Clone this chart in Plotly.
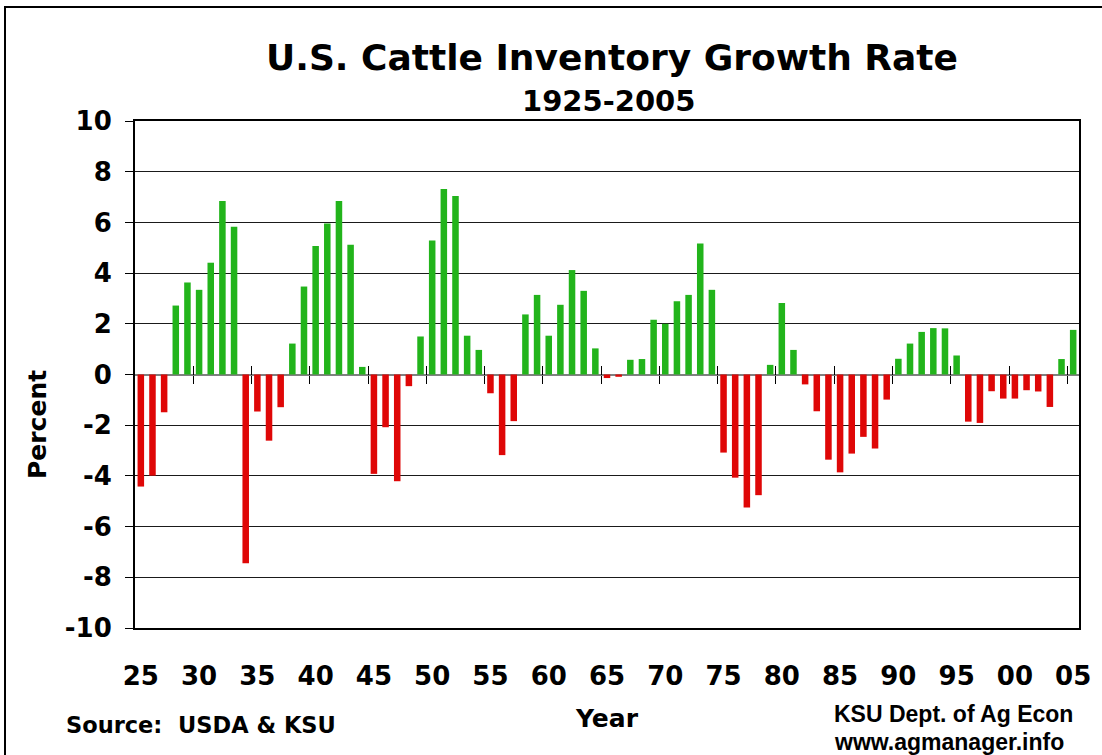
import plotly.graph_objects as go

years = list(range(1925, 2006))
growth = [
    -4.42, -3.99, -1.49, 2.72, 3.63, 3.34, 4.41, 6.84, 5.83, -7.45,
    -1.46, -2.61, -1.29, 1.22, 3.47, 5.07, 5.96, 6.84, 5.12, 0.30,
    -3.92, -2.08, -4.21, -0.46, 1.50, 5.29, 7.32, 7.04, 1.53, 0.97,
    -0.74, -3.18, -1.84, 2.37, 3.14, 1.53, 2.75, 4.12, 3.30, 1.03,
    -0.14, -0.09, 0.58, 0.61, 2.16, 2.00, 2.89, 3.14, 5.17, 3.34,
    -3.08, -4.07, -5.25, -4.76, 0.38, 2.82, 0.97, -0.39, -1.45, -3.36,
    -3.86, -3.12, -2.46, -2.92, -0.99, 0.62, 1.22, 1.68, 1.83, 1.82,
    0.75, -1.86, -1.91, -0.66, -0.95, -0.95, -0.62, -0.67, -1.28, 0.61,
    1.76,
]
label_years = list(range(1925, 2006, 5))
x_tick_labels = ["25", "30", "35", "40", "45", "50", "55", "60", "65",
                 "70", "75", "80", "85", "90", "95", "00", "05"]
y_ticks = [-10, -8, -6, -4, -2, 0, 2, 4, 6, 8, 10]
y_tick_labels = ["-10", "-8", "-6", "-4", "-2", "0", "2", "4", "6", "8", "10"]
sep_ticks = [y - 0.5 for y in range(1930, 2006, 5)]

GREEN = "#22B41B"
RED = "#DF0707"
colors = [GREEN if v >= 0 else RED for v in growth]

W, H = 1102, 755
L, R, T, B = 135, 1079, 121, 628
pw, ph = R - L, B - T


def px(x):
    return (x - L) / pw


def py(y):
    return (B - y) / ph


VERD = "DejaVu Sans, Verdana, sans-serif"
ARIAL = "Liberation Sans, Arial, sans-serif"

fig = go.Figure()
fig.add_trace(go.Bar(
    x=years, y=growth, marker=dict(color=colors, line=dict(width=0)),
    width=0.56, showlegend=False, hoverinfo="x+y",
))
# invisible traces to host the separator-tick axes
fig.add_trace(go.Scatter(x=years, y=growth, xaxis="x2", mode="none",
                         hoverinfo="skip", showlegend=False))
fig.add_trace(go.Scatter(x=years, y=growth, xaxis="x3", mode="none",
                         hoverinfo="skip", showlegend=False))

xr = [1924.5, 2005.5]
fig.update_layout(
    width=W, height=H,
    margin=dict(l=L, r=W - R, t=T, b=H - B, pad=0),
    paper_bgcolor="white", plot_bgcolor="white",
    font=dict(family=VERD, color="black"),
    bargap=0.45,
    xaxis=dict(
        range=xr, tickmode="array", tickvals=label_years, ticktext=x_tick_labels,
        ticks="outside", ticklen=0, tickcolor="rgba(0,0,0,0)",
        ticklabelstandoff=24,
        tickfont=dict(family=VERD, size=26, color="black", weight="bold"),
        showgrid=False, zeroline=False,
        showline=True, linecolor="black", linewidth=2, mirror=True,
    ),
    xaxis2=dict(
        range=xr, overlaying="x", anchor="free", position=0.5,
        tickmode="array", tickvals=sep_ticks, ticks="outside", ticklen=8,
        tickcolor="black", tickwidth=1, showticklabels=False,
        showgrid=False, zeroline=False, showline=False,
    ),
    xaxis3=dict(
        range=xr, overlaying="x", anchor="free", position=0.5,
        tickmode="array", tickvals=sep_ticks, ticks="inside", ticklen=9,
        tickcolor="black", tickwidth=1, showticklabels=False,
        showgrid=False, zeroline=False, showline=False,
    ),
    yaxis=dict(
        range=[-10, 10], tickmode="array", tickvals=y_ticks, ticktext=y_tick_labels,
        ticks="outside", ticklen=8, tickcolor="black", tickwidth=1,
        ticklabelstandoff=8,
        tickfont=dict(family=VERD, size=26, color="black", weight="bold"),
        showgrid=True, gridcolor="#1a1a1a", gridwidth=1,
        zeroline=True, zerolinecolor="#808080", zerolinewidth=2,
        showline=True, linecolor="black", linewidth=2, mirror=True,
    ),
    shapes=[dict(
        type="rect", xref="paper", yref="paper",
        x0=px(5), x1=px(1130), y0=py(790), y1=py(7),
        line=dict(color="black", width=2), fillcolor="rgba(0,0,0,0)", layer="below",
    )],
    annotations=[
        dict(text="U.S. Cattle Inventory Growth Rate", x=px(612), y=py(57),
             xref="paper", yref="paper", xanchor="center", yanchor="middle",
             showarrow=False, font=dict(family=VERD, size=36, weight="bold")),
        dict(text="1925-2005", x=px(608), y=py(101),
             xref="paper", yref="paper", xanchor="center", yanchor="middle",
             showarrow=False, font=dict(family=VERD, size=29, weight="bold")),
        dict(text="Percent", x=px(37), y=py(425), textangle=-90,
             xref="paper", yref="paper", xanchor="center", yanchor="middle",
             showarrow=False, font=dict(family=VERD, size=25, weight="bold")),
        dict(text="Year", x=px(607), y=py(718),
             xref="paper", yref="paper", xanchor="center", yanchor="middle",
             showarrow=False, font=dict(family=VERD, size=25, weight="bold")),
        dict(text="Source:\u00a0 USDA &amp; KSU", x=px(64), y=py(725),
             xref="paper", yref="paper", xanchor="left", yanchor="middle",
             showarrow=False, font=dict(family=VERD, size=22.5, weight="bold")),
        dict(text="KSU Dept. of Ag Econ", x=px(832), y=py(714),
             xref="paper", yref="paper", xanchor="left", yanchor="middle",
             showarrow=False, font=dict(family=ARIAL, size=23, weight="bold")),
        dict(text="www.agmanager.info", x=px(832), y=py(742),
             xref="paper", yref="paper", xanchor="left", yanchor="middle",
             showarrow=False, font=dict(family=ARIAL, size=23, weight="bold")),
    ],
)

fig.write_html("out.html",
               config={"displayModeBar": False},
               post_script="document.body.style.margin='0';"
                           "document.body.style.overflow='hidden';")
